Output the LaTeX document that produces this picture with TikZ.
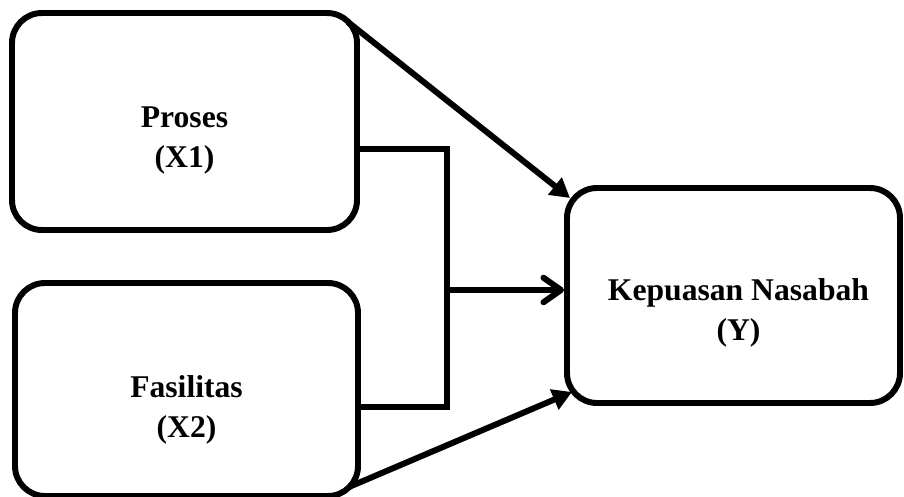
\documentclass[tikz,border=0pt]{standalone}
\usepackage{fontspec}
\setmainfont{Liberation Serif}
\usetikzlibrary{positioning}
\usetikzlibrary{calc}
\usetikzlibrary{arrows.meta}
\colorlet{line colour}{black}
\tikzset{
    % Thick black lines everywhere
    thick line/.style={line width=3.4pt, color=line colour},
%
    % The three variable boxes
    box/.style={
        draw, rectangle, thick line, rounded corners=6mm},
    box text/.style={
        align=center, font=\fontsize{18}{23}\selectfont\bfseries},
%
    % Connectors
    link/.style={thick line, -{Triangle[length=11pt, width=12pt]}},
    open link/.style={thick line, -{Straight Barb[round, length=10pt, width=14pt]}},
    bracket line/.style={thick line},
}

\begin{document}
\begin{tikzpicture}[x=0.2mm, y=-0.2mm]

\useasboundingbox (0,0) rectangle (904,497);

\path
    (184.5,121.5) node [box, minimum width=69mm, minimum height=43.4mm] (proses) {}
    (186.5,389.5) node [box, minimum width=68.6mm, minimum height=42.6mm] (fasilitas) {}
    (733.5,295.5) node [box, minimum width=66.6mm, minimum height=43mm] (kepuasan) {};

\node [box text] at ([yshift=-3.8mm]proses.center) (proses text) {Proses\\(X1)};
\node [box text] at ([yshift=-4.1mm]fasilitas.center) (fasilitas text) {Fasilitas\\(X2)};
\node [box text] at ([xshift=1mm, yshift=-3.5mm]kepuasan.center) (kepuasan text) {Kepuasan Nasabah\\(Y)};

% joint of the two independent variables
\coordinate (top join) at (447,149);
\coordinate (bottom join) at (447,407);
\coordinate (mid join) at (447,290);

\draw [bracket line] (proses.east |- top join) -- (top join) -- (bottom join)
    -- (fasilitas.east |- bottom join);
\draw [open link] (mid join) -- (kepuasan.west |- mid join);

\draw [link] ($(proses.north east)+(-12,12)$) -- ($(kepuasan.north west)+(6,13)$);
\draw [link] ($(fasilitas.south east)+(-12,-12)$) -- ($(kepuasan.south west)+(8,-14)$);

\end{tikzpicture}
\end{document}
